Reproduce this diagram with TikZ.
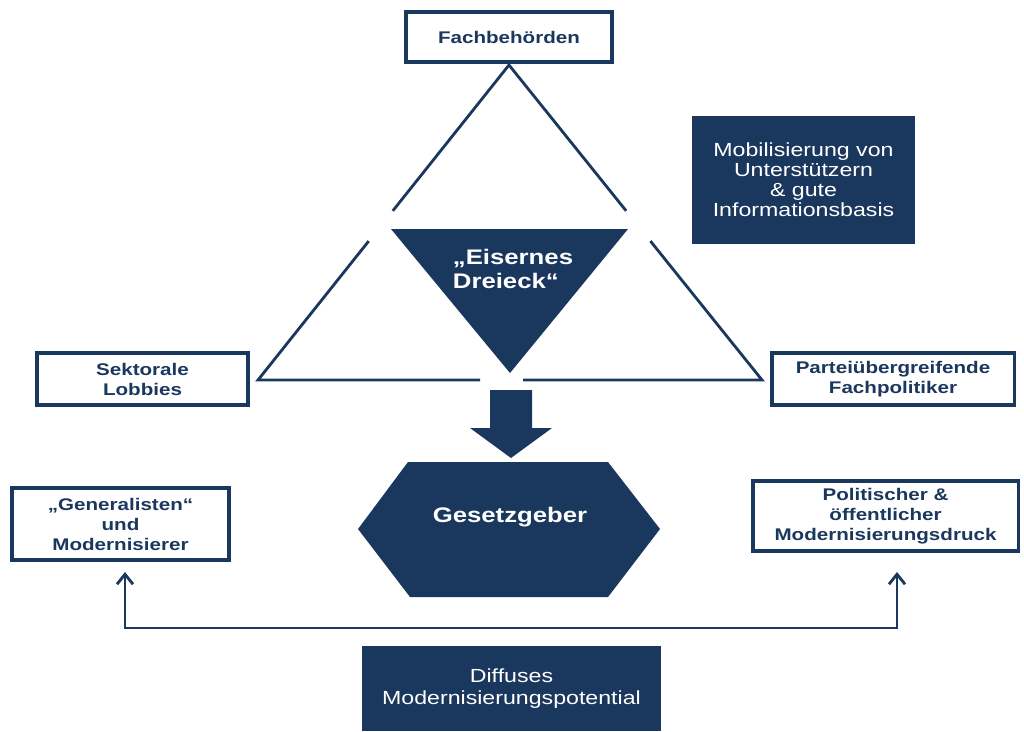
\documentclass[tikz,border=0pt]{standalone}
\usepackage{fontspec}
\setmainfont{Liberation Sans}[FakeStretch=1.22]
\usetikzlibrary{arrows.meta,positioning,calc}
\definecolor{navy}{RGB}{26,55,94}

\begin{document}
\begin{tikzpicture}[
  x=0.025cm, y=-0.025cm,
  outbox/.style={draw=navy, line width=2.2pt, align=center, text=navy, inner sep=0pt,
                 font=\bfseries\fontsize{12}{14.2}\selectfont},
  fillbox/.style={fill=navy, align=center, text=white, inner sep=0pt,
                  font=\fontsize{13.5}{14.2}\selectfont},
  bigtext/.style={text=white, align=left, font=\bfseries\fontsize{15}{17}\selectfont},
  edge/.style={draw=navy, line width=2pt},
  link/.style={{Straight Barb[length=2.5mm,width=4mm]}-{Straight Barb[length=2.5mm,width=4mm]},
               draw=navy, line width=2pt}
]
  \useasboundingbox (0,0) rectangle (1024,731);

  \node[outbox, minimum width=5.15cm, minimum height=1.25cm] (fach) at (509,37) {Fachbehörden};
  \node[fillbox, minimum width=5.575cm, minimum height=3.2cm] (mobil) at (803.5,180)
    {Mobilisierung von\\Unterstützern\\\& gute\\Informationsbasis};
  \node[outbox, minimum width=5.275cm, minimum height=1.3cm] (sekt) at (142.5,379) {Sektorale\\Lobbies};
  \node[outbox, minimum width=6.05cm, minimum height=1.3cm] (partei) at (893,379)
    {Parteiübergreifende\\Fachpolitiker};
  \node[outbox, minimum width=5.425cm, minimum height=1.8cm] (gen) at (120.5,524)
    {„Generalisten“\\und\\Modernisierer};
  \node[outbox, minimum width=6.625cm, minimum height=1.75cm] (pol) at (885.5,516)
    {Politischer \&\\öffentlicher\\Modernisierungsdruck};
  \node[fillbox, minimum width=7.475cm, minimum height=2.125cm,
        font=\fontsize{13.5}{16}\selectfont] (diff) at (511.5,688.5)
    {Diffuses\\Modernisierungspotential};

  % triangle with gaps
  \coordinate (apex) at (509,65);
  \coordinate (cornerL) at (258,380);
  \coordinate (cornerR) at (762,380);
  \draw[edge] ($(apex)!0.463!(cornerL)$) -- (apex) -- ($(apex)!0.463!(cornerR)$);
  \draw[edge] ($(apex)!0.559!(cornerL)$) -- (cornerL) -- (480,380);
  \draw[edge] ($(apex)!0.559!(cornerR)$) -- (cornerR) -- (523,380);

  % inner triangle
  \fill[navy] (391,229) -- (628,229) -- (510,373) -- cycle;
  \node[bigtext] (eisen) at (513,269) {„Eisernes\\Dreieck“};

  % block arrow
  \fill[navy] (490,390) -- (532,390) -- (532,428) -- (552,428) -- (511,458)
    -- (470,428) -- (490,428) -- cycle;

  % hexagon
  \fill[navy] (408,462) -- (608,462) -- (660,529) -- (608,597) -- (410,597) -- (358,529) -- cycle;
  \node[bigtext] (gesetz) at (510,517) {Gesetzgeber};

  % connector
  \coordinate (genin) at (125,572);
  \coordinate (polin) at (897,572);
  \coordinate (turnL) at (125,628);
  \coordinate (turnR) at (897,628);
  \draw[link] (genin) -- (turnL) -- (turnR) -- (polin);
\end{tikzpicture}
\end{document}
